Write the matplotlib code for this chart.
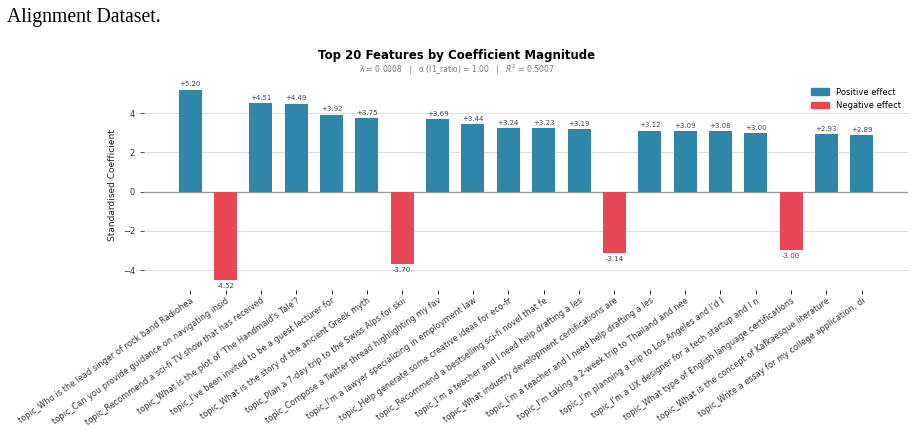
import numpy as np
import matplotlib
matplotlib.use("Agg")
from matplotlib import pyplot as plt
from matplotlib.patches import Patch

# feature names and standardised coefficients (top 20 by magnitude)
features = [
    "topic_Who is the lead singer of rock band Radiohea",
    "topic_Can you provide guidance on navigating insid",
    "topic_Recommend a sci-fi TV show that has received",
    "topic_What is the plot of 'The Handmaid's Tale'?",
    "topic_I've been invited to be a guest lecturer for",
    "topic_What is the story of the ancient Greek myth",
    "topic_Plan a 7-day trip to the Swiss Alps for skii",
    "topic_Compose a Twitter thread highlighting my fav",
    "topic_I'm a lawyer specializing in employment law",
    "topic_Help generate some creative ideas for eco-fr",
    "topic_Recommend a bestselling sci-fi novel that fe",
    "topic_I'm a teacher and I need help drafting a les",
    "topic_What industry development certifications are",
    "topic_I'm a teacher and I need help drafting a les",
    "topic_I'm taking a 2-week trip to Thailand and nee",
    "topic_I'm planning a trip to Los Angeles and I'd l",
    "topic_I'm a UX designer for a tech startup and I n",
    "topic_What type of English language certifications",
    "topic_What is the concept of Kafkaesque literature",
    "topic_Write a essay for my college application, di",
]
coefs = [5.20, -4.52, 4.51, 4.49, 3.92, 3.75, -3.70, 3.69, 3.44, 3.24,
         3.23, 3.19, -3.14, 3.12, 3.09, 3.08, 3.00, -3.00, 2.93, 2.89]

lam = 0.0008
l1_ratio = 1.00
r2 = 0.5007

POS = "#2E86AB"
NEG = "#E84855"

fig = plt.figure(figsize=(9.14, 4.3), dpi=100)
ax = fig.add_axes([0.1575, 0.326, 0.836, 0.4875])

x = np.arange(len(coefs))
colors = [POS if c > 0 else NEG for c in coefs]
ax.bar(x, coefs, width=0.65, color=colors, zorder=3)

for xi, c in zip(x, coefs):
    if c > 0:
        ax.text(xi, c + 0.12, f"+{c:.2f}", ha="center", va="bottom",
                fontsize=5, color="#444444")
    else:
        ax.text(xi, c - 0.12, f"{c:.2f}", ha="center", va="top",
                fontsize=5, color="#444444")

ax.axhline(0, color="#999999", linewidth=0.9, zorder=2)
ax.yaxis.grid(True, color="#dddddd", linewidth=0.8, zorder=0)
ax.set_axisbelow(True)
for s in ax.spines.values():
    s.set_visible(False)

ax.set_xticks(x)
ax.set_xticklabels(features, rotation=35, ha="right", rotation_mode="anchor",
                   fontsize=5.9, color="#333333")
ax.set_yticks([-4, -2, 0, 2, 4])
ax.tick_params(axis="y", labelsize=6, length=3, width=0.6, colors="#333333")
ax.tick_params(axis="x", length=3, width=0.6, pad=1.5)
ax.set_ylabel("Standardised Coefficient", fontsize=6.5, color="#222222")

handles = [Patch(color=POS, label="Positive effect"),
           Patch(color=NEG, label="Negative effect")]
ax.legend(handles=handles, loc="upper right", frameon=False, fontsize=6,
          handlelength=2.2, handleheight=0.9, bbox_to_anchor=(1.0, 1.0))

fig.text(0.5, 1 - 55 / 430, "Top 20 Features by Coefficient Magnitude",
         ha="center", va="center", fontsize=8.5, fontweight="bold")
fig.text(0.5, 1 - 70 / 430,
         f"λ = {lam:.4f}   |   α (l1_ratio) = {l1_ratio:.2f}   |   $R^2$ = {r2:.4f}",
         ha="center", va="center", fontsize=5.5, color="#777777")

fig.text(7 / 914, 1 - 22 / 430, "Alignment Dataset.", ha="left",
         va="baseline", fontsize=14.2, family="Liberation Serif")

fig.savefig("out.png", dpi=100)
